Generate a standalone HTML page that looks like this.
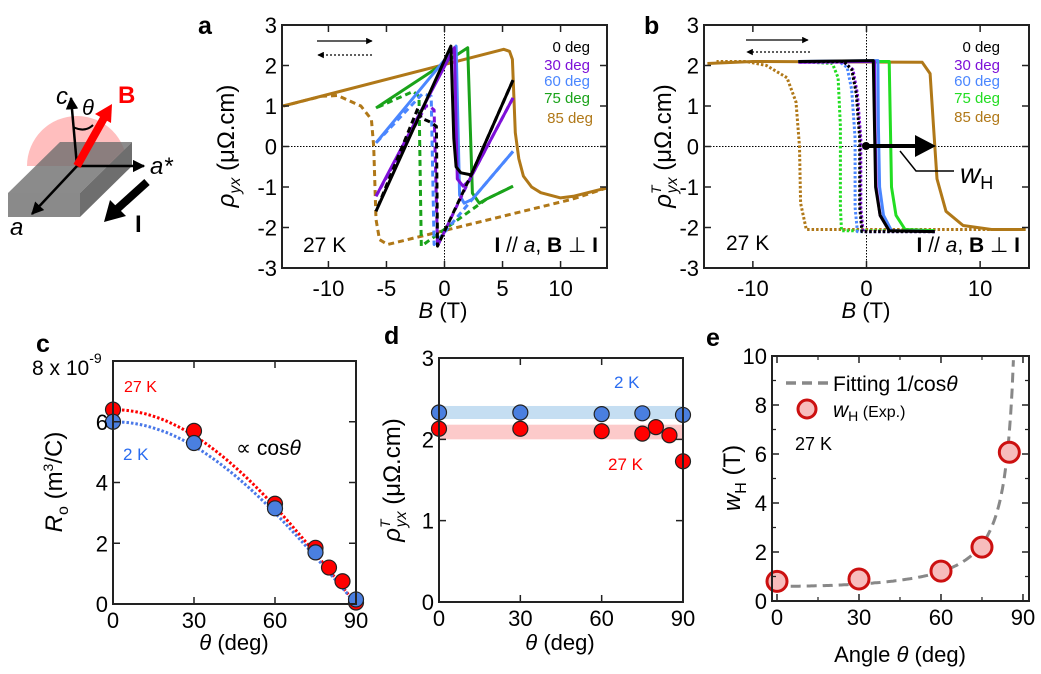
<!DOCTYPE html>
<html><head><meta charset="utf-8"><style>
html,body{margin:0;padding:0;background:#fff;}
svg{display:block;font-family:"Liberation Sans",Arial,sans-serif;}
</style></head><body>
<svg id="fig" width="1041" height="674" viewBox="0 0 1041 674" xmlns="http://www.w3.org/2000/svg">
<defs>
<marker id="ah" viewBox="0 0 10 10" refX="9" refY="5" markerWidth="5" markerHeight="5" orient="auto-start-reverse"><path d="M0,0L10,5L0,10z" fill="#000"/></marker>
</defs>
<g>
<path d="M27,166 A50,50 0 0 1 127,166 Z" fill="rgba(255,110,110,0.45)"/>
<polygon points="8,193 80,193 132,142 60,142" fill="rgba(110,110,110,0.8)"/>
<polygon points="8,193 80,193 80,217 8,217" fill="#8a8a8a"/>
<polygon points="80,193 132,142 132,166 80,217" fill="#6e6e6e"/>
<line x1="77" y1="166" x2="71" y2="98" stroke="#000" stroke-width="2.5" marker-end="url(#ah)"/>
<line x1="77" y1="166" x2="144" y2="166" stroke="#000" stroke-width="2.5" marker-end="url(#ah)"/>
<line x1="77" y1="166" x2="32" y2="214" stroke="#000" stroke-width="2.5" marker-end="url(#ah)"/>
<path d="M73,127 Q85,133 93,125" fill="none" stroke="#000" stroke-width="2"/>
<line x1="77" y1="166" x2="104" y2="118" stroke="#f00" stroke-width="8"/>
<polygon points="112,104 95,114 111,123" fill="#f00"/>
<line x1="147" y1="182" x2="116" y2="210" stroke="#000" stroke-width="8"/>
<polygon points="104,222 110,200 126,216" fill="#000"/>
<text x="56" y="104" font-size="24" font-style="italic">c</text>
<text x="82" y="115" font-size="22" font-style="italic">θ</text>
<text x="118" y="103" font-size="24" font-weight="bold" fill="#f00">B</text>
<text x="150" y="174" font-size="24" font-style="italic">a*</text>
<text x="10" y="235" font-size="24" font-style="italic">a</text>
<text x="135" y="232" font-size="24" font-weight="bold">I</text>
</g>
<g id="pa"></g>
<g id="pb"></g>
<g id="pc"></g>
<g id="pd"></g>
<g id="pe"></g>
</svg>
<script>
// ---------- data: panel a (B [T], rho_yx) ----------
const a0Up=[[-5.9,-1.6],[0.55,2.48],[0.8,0.2],[1.0,-0.5],[1.4,-0.65],[2.3,-0.7],[5.9,1.64]];
const a0Down=[[5.9,1.64],[2.3,-0.7],[-0.6,-2.46],[-0.7,0.5],[-1.2,0.6],[-2.0,0.7],[-2.3,0.94],[-5.9,-1.6]];
const a30Up=[[-5.9,-1.23],[0.85,2.44],[1.1,-0.8],[1.6,-0.98],[2.1,-0.85],[5.9,1.2]];
const a30Down=[[5.9,1.2],[2.1,-0.85],[-0.6,-2.46],[-0.9,0.9],[-1.3,1.0],[-1.6,1.0],[-5.9,-1.23]];
const a60Up=[[-5.9,0.09],[1.0,2.48],[1.3,-1.2],[1.7,-1.4],[2.4,-1.3],[5.9,-0.12]];
const a60Down=[[5.9,-0.12],[2.4,-1.3],[-0.9,-2.42],[-1.15,1.24],[-1.6,1.28],[-1.9,1.3],[-5.9,0.09]];
const a75Up=[[-5.9,0.95],[2.0,2.44],[2.4,-1.15],[3.0,-1.4],[3.6,-1.3],[5.9,-0.98]];
const a75Down=[[5.9,-0.98],[3.6,-1.3],[-2.0,-2.46],[-2.2,1.24],[-2.7,1.36],[-5.9,0.95]];
const a85Up=[[-13.9,1.0],[5.1,2.4],[5.6,2.35],[5.85,2.15],[6.1,0.34],[6.4,-0.3],[6.8,-0.73],[7.5,-1.0],[8.3,-1.14],[10,-1.27],[11.1,-1.23],[14,-1.02]];
const a85Down=[[14,-1.02],[11,-1.3],[-4.9,-2.42],[-5.6,-2.3],[-5.9,-1.8],[-6.1,0],[-6.3,0.67],[-7.2,1.0],[-9.2,1.26],[-10.6,1.24],[-13.9,1.0]];
// ---------- data: panel b (B [T], rho^T_yx) ----------
const b0Up=[[-6,2.1],[0.6,2.12],[0.7,0.5],[0.8,-1.0],[1.2,-1.7],[2.0,-2.08],[6,-2.1]];
const b0Down=[[6,-2.1],[-0.4,-2.1],[-0.6,-1.5],[-0.6,0.2],[-0.9,1.3],[-1.3,1.9],[-2.0,2.1],[-6,2.1]];
const b30Up=[[-6,2.08],[0.7,2.1],[0.75,0.5],[0.85,-1.0],[1.2,-1.7],[2.0,-2.08],[6,-2.1]];
const b30Down=[[6,-2.1],[-0.3,-2.1],[-0.5,-1.5],[-0.5,0.2],[-0.8,1.3],[-1.2,1.9],[-2.0,2.08],[-6,2.08]];
const b60Up=[[-6,2.1],[1.0,2.12],[1.05,0.5],[1.15,-1.0],[1.5,-1.7],[2.2,-2.08],[6,-2.1]];
const b60Down=[[6,-2.1],[-0.8,-2.1],[-1.0,-1.5],[-1.0,0.2],[-1.3,1.4],[-1.7,1.95],[-2.4,2.1],[-6,2.1]];
const b75Up=[[-6,2.1],[2.0,2.1],[2.1,0.5],[2.2,-1.0],[2.6,-1.7],[3.4,-2.05],[6,-2.08]];
const b75Down=[[6,-2.08],[-2.2,-2.08],[-2.3,-1.5],[-2.3,0.5],[-2.5,1.7],[-3.0,2.05],[-6,2.1]];
const b85Up=[[-14,2.05],[-10,2.1],[4.9,2.08],[5.6,1.8],[5.9,0.5],[6.2,-0.8],[7.0,-1.6],[8.5,-1.95],[11,-2.05],[14,-2.05]];
const b85Down=[[14,-2.05],[-5.3,-2.05],[-5.8,-1.4],[-5.9,0],[-6.2,1.1],[-7.0,1.7],[-8.8,2.0],[-10.6,2.1],[-13.2,2.1]];
// ---------- data: panel c ----------
const cAngles27=[0,30,60,75,80,85,90];
const cR27=[6.4,5.7,3.3,1.85,1.2,0.75,0.05];
const cAngles2=[0,30,60,75,90];
const cR2=[6.0,5.3,3.15,1.7,0.15];
const cFitAmp=[6.4,6.0];
// ---------- data: panel d ----------
const dAngles2=[0,30,60,75,90];
const dRho2=[2.33,2.33,2.31,2.32,2.3];
const dAngles27=[0,30,60,75,80,85,90];
const dRho27=[2.13,2.13,2.1,2.07,2.15,2.05,1.73];
const dBand2=[2.25,2.41];
const dBand27=[2.0,2.18];
// ---------- data: panel e ----------
const eAngles=[0,30,60,75,85];
const eWH=[0.8,0.9,1.22,2.2,6.07];
const eFitAmp=[0.6];

const NS="http://www.w3.org/2000/svg";
function mk(par,tag,at){const e=document.createElementNS(NS,tag);for(const k in at)e.setAttribute(k,at[k]);par.appendChild(e);return e;}
function panel(g,p){
  p.sx=v=>p.x0+(v-p.xmin)/(p.xmax-p.xmin)*(p.x1-p.x0);
  p.sy=v=>p.y1-(v-p.ymin)/(p.ymax-p.ymin)*(p.y1-p.y0);
  p.g=g;return p;
}
function frame(p,xt,yt,xl,yl,opt){
  const g=p.g;opt=opt||{};const off=opt.off||28;
  xt.forEach(v=>{const x=p.sx(v);
    const t=mk(g,'path',{d:`M${x},${p.y1}v-7M${x},${p.y0}v7`,stroke:'#222','stroke-width':1.5});
    
    const l=mk(g,'text',{x:x,y:p.y1+off,'font-size':22,'text-anchor':'middle'});l.textContent=xl?xl(v):v;
    });
  yt.forEach(v=>{const y=p.sy(v);
    const t=mk(g,'path',{d:`M${p.x0},${y}h7M${p.x1},${y}h-7`,stroke:'#222','stroke-width':1.5});
    
    if(yl&&yl(v)==='')return;
    const l=mk(g,'text',{x:p.x0-5,y:y+8,'font-size':22,'text-anchor':'end'});l.textContent=yl?yl(v):v;
    });
  (opt.minx||[]).forEach(v=>{const x=p.sx(v);mk(g,'path',{d:`M${x},${p.y1}v-4M${x},${p.y0}v4`,stroke:'#222','stroke-width':1.2});});
  (opt.miny||[]).forEach(v=>{const y=p.sy(v);mk(g,'path',{d:`M${p.x0},${y}h4M${p.x1},${y}h-4`,stroke:'#222','stroke-width':1.2});});
  const r=mk(g,'rect',{x:p.x0,y:p.y0,width:p.x1-p.x0,height:p.y1-p.y0,fill:'none',stroke:'#222','stroke-width':2});
  
}
function zeroLines(p){mk(p.g,'line',{x1:p.x0,x2:p.x1,y1:p.sy(0),y2:p.sy(0),stroke:'#000','stroke-width':1,'stroke-dasharray':'1.5,1.5'});
  mk(p.g,'line',{x1:p.sx(0),x2:p.sx(0),y1:p.y0,y2:p.y1,stroke:'#000','stroke-width':1,'stroke-dasharray':'1.5,1.5'});}
function curve(p,pts,col,dash,name){
  const d=pts.map((q,i)=>(i?'L':'M')+p.sx(q[0]).toFixed(1)+','+p.sy(q[1]).toFixed(1)).join('');
  const e=mk(p.g,'path',{d:d,fill:'none',stroke:col,'stroke-width':3,'stroke-linejoin':'round'});
  if(dash)e.setAttribute('stroke-dasharray',dash);
  
  
}
function txt(g,x,y,s,size,at,name){const t=mk(g,'text',Object.assign({x:x,y:y,'font-size':size},at||{}));t.innerHTML=s;
  
  return t;}
function dot(p,x,y,fill,r,stroke,sw,name){const c=mk(p.g,'circle',{cx:p.sx(x),cy:p.sy(y),r:r,fill:fill,stroke:stroke,'stroke-width':sw});
  
  }

const colK='#000',colP='#7d10d8',colB='#4a86ff',colGa='#1aa31a',colGb='#22dd22',colBr='#b07818';
const rhoLbl='<tspan font-style="italic">ρ</tspan><tspan font-size="16" dy="6" font-style="italic">yx</tspan><tspan dy="-6"> (μΩ.cm)</tspan>';
const rhoTLbl='<tspan font-style="italic">ρ</tspan><tspan font-size="14" dy="-10" font-style="italic">T</tspan><tspan font-size="16" dy="16" dx="-8" font-style="italic">yx</tspan><tspan dy="-6"> (μΩ.cm)</tspan>';

// ---------- panel a ----------
const A=panel(document.getElementById('pa'),{x0:282,x1:607,y0:25,y1:268,xmin:-14,xmax:14,ymin:-3,ymax:3});
zeroLines(A);
[[a85Up,a85Down,colBr,'85'],[a75Up,a75Down,colGa,'75'],[a60Up,a60Down,colB,'60'],[a30Up,a30Down,colP,'30'],[a0Up,a0Down,colK,'0']].forEach(s=>{
  curve(A,s[1],s[2],'6,4','curve-'+s[3]+'deg-down');curve(A,s[0],s[2],null,'curve-'+s[3]+'deg-up');});
frame(A,[-10,-5,0,5,10],[-3,-2,-1,0,1,2,3]);
txt(A.g,198,34,'a',25,{'font-weight':'bold'},'panel-label-a');
txt(A.g,443,318,'<tspan font-style="italic">B</tspan> (T)',22,{'text-anchor':'middle'},'x-axis-title');
txt(A.g,0,0,rhoLbl,24,{'text-anchor':'middle',transform:'translate(234,146) rotate(-90)'},'y-axis-title');
txt(A.g,303,252,'27 K',21,{},'temperature-label');
txt(A.g,598,252,'<tspan font-weight="bold">I</tspan> // <tspan font-style="italic">a</tspan>, <tspan font-weight="bold">B</tspan> ⊥ <tspan font-weight="bold">I</tspan>',21,{'text-anchor':'end'},'geometry-label');
[['0 deg',colK,52],['30 deg',colP,70],['60 deg',colB,86],['75 deg',colGa,103]].forEach(l=>txt(A.g,590,l[2],l[0],15,{'text-anchor':'end',fill:l[1]},'legend-entry'));
txt(A.g,593,123,'85 deg',15,{'text-anchor':'end',fill:colBr},'legend-entry');
mk(A.g,'line',{x1:317,y1:41,x2:372,y2:41,stroke:'#000','stroke-width':1.3,'marker-end':'url(#ah)'});
mk(A.g,'line',{x1:372,y1:55,x2:318,y2:55,stroke:'#000','stroke-width':1.3,'stroke-dasharray':'2,2','marker-end':'url(#ah)'});

// ---------- panel b ----------
const B=panel(document.getElementById('pb'),{x0:704,x1:1029,y0:25,y1:268,xmin:-14.3,xmax:14.3,ymin:-3,ymax:3});
zeroLines(B);
[[b85Up,b85Down,colBr,'85'],[b75Up,b75Down,colGb,'75'],[b60Up,b60Down,colB,'60'],[b30Up,b30Down,colP,'30'],[b0Up,b0Down,colK,'0']].forEach(s=>{
  curve(B,s[1],s[2],'2.5,2','curve-'+s[3]+'deg-down');curve(B,s[0],s[2],null,'curve-'+s[3]+'deg-up');});
frame(B,[-10,0,10],[-3,-2,-1,0,1,2,3]);
txt(B.g,644,34,'b',25,{'font-weight':'bold'},'panel-label-b');
txt(B.g,866,318,'<tspan font-style="italic">B</tspan> (T)',22,{'text-anchor':'middle'},'x-axis-title');
txt(B.g,0,0,rhoTLbl,24,{'text-anchor':'middle',transform:'translate(671,146) rotate(-90)'},'y-axis-title');
txt(B.g,726,250,'27 K',21,{},'temperature-label');
txt(B.g,1020,252,'<tspan font-weight="bold">I</tspan> // <tspan font-style="italic">a</tspan>, <tspan font-weight="bold">B</tspan> ⊥ <tspan font-weight="bold">I</tspan>',21,{'text-anchor':'end'},'geometry-label');
[['0 deg',colK,52],['30 deg',colP,70],['60 deg',colB,86],['75 deg',colGb,103],['85 deg',colBr,122]].forEach(l=>txt(B.g,1000,l[2],l[0],15,{'text-anchor':'end',fill:l[1]},'legend-entry'));
mk(B.g,'line',{x1:746,y1:40,x2:808,y2:40,stroke:'#000','stroke-width':1.3,'marker-end':'url(#ah)'});
mk(B.g,'line',{x1:810,y1:52,x2:747,y2:52,stroke:'#000','stroke-width':1.3,'stroke-dasharray':'2,2','marker-end':'url(#ah)'});
mk(B.g,'circle',{cx:866,cy:146,r:4,fill:'#000'});
mk(B.g,'line',{x1:866,y1:146,x2:918,y2:146,stroke:'#000','stroke-width':4});
mk(B.g,'polygon',{points:'915,135 936,146 915,157',fill:'#000'});
mk(B.g,'polyline',{points:'900,151 916,171 954,171',fill:'none',stroke:'#000','stroke-width':1.5});
txt(B.g,960,183,'<tspan font-style="italic">w</tspan><tspan font-size="18" dy="6">H</tspan>',28,{},'wh-annotation');

// ---------- panel c ----------
const C=panel(document.getElementById('pc'),{x0:113,x1:356,y0:361,y1:604,xmin:0,xmax:90,ymin:0,ymax:8});
[[cFitAmp[0],'#f00'],[cFitAmp[1],'#4a78e8']].forEach((f,i)=>{
  const pts=[];for(let t=0;t<=90;t+=2)pts.push([t,f[0]*Math.cos(t*Math.PI/180)]);
  curve(C,pts,f[1],'2.5,2',i?'fit-2k':'fit-27k');});
cAngles27.forEach((t,i)=>dot(C,t,cR27[i],'#f00',7.5,'#222',1.2,'point-27k'));
cAngles2.forEach((t,i)=>dot(C,t,cR2[i],'#4a7fe0',7.5,'#222',1.2,'point-2k'));
frame(C,[0,30,60,90],[0,2,4,6,8],null,v=>v===8?'':v,{off:24});
txt(C.g,36,352,'c',25,{'font-weight':'bold'},'panel-label-c');
txt(C.g,32,375,'8 x 10<tspan font-size="14" dy="-12">-9</tspan>',21,{},'y-axis-exponent');
txt(C.g,234,650,'<tspan font-style="italic">θ</tspan> (deg)',22,{'text-anchor':'middle'},'x-axis-title');
txt(C.g,0,0,'<tspan font-style="italic">R</tspan><tspan font-size="16" dy="6">o</tspan><tspan dy="-6"> (m</tspan><tspan font-size="14" dy="-9">3</tspan><tspan dy="9">/C)</tspan>',24,{'text-anchor':'middle',transform:'translate(62,482) rotate(-90)'},'y-axis-title');
txt(C.g,124,392,'27 K',16,{fill:'#f00'},'label-27k');
txt(C.g,123,460,'2 K',17,{fill:'#2a6cf0'},'label-2k');
txt(C.g,236,455,'∝ cos<tspan font-style="italic">θ</tspan>',21,{},'fit-annotation');

// ---------- panel d ----------
const D=panel(document.getElementById('pd'),{x0:439,x1:683,y0:358,y1:602,xmin:0,xmax:90,ymin:0,ymax:3});
[[dBand2,'rgba(140,190,230,0.5)','band-2k'],[dBand27,'rgba(250,150,150,0.5)','band-27k']].forEach(b=>{
  const r=mk(D.g,'rect',{x:D.x0,y:D.sy(b[0][1]),width:D.x1-D.x0,height:D.sy(b[0][0])-D.sy(b[0][1]),fill:b[1]});
  });
dAngles2.forEach((t,i)=>dot(D,t,dRho2[i],'#4a7fe0',7.5,'#222',1.2,'point-2k'));
dAngles27.forEach((t,i)=>dot(D,t,dRho27[i],'#f00',7.5,'#222',1.2,'point-27k'));
frame(D,[0,30,60,90],[0,1,2,3],null,null,{off:24});
txt(D.g,384,344,'d',25,{'font-weight':'bold'},'panel-label-d');
txt(D.g,560,650,'<tspan font-style="italic">θ</tspan> (deg)',22,{'text-anchor':'middle'},'x-axis-title');
txt(D.g,0,0,rhoTLbl,24,{'text-anchor':'middle',transform:'translate(400,480) rotate(-90)'},'y-axis-title');
txt(D.g,614,388,'2 K',17,{fill:'#2a6cf0'},'label-2k');
txt(D.g,608,470,'27 K',17,{fill:'#f00'},'label-27k');

// ---------- panel e ----------
const E=panel(document.getElementById('pe'),{x0:772,x1:1029,y0:356,y1:601,xmin:-1.83,xmax:92.2,ymin:0,ymax:10});
{const pts=[];for(let t=5;t<=86.6;t+=0.5)pts.push([t,eFitAmp[0]/Math.cos(t*Math.PI/180)]);
 curve(E,pts.filter(q=>q[1]<=10.2),'#888','10,6','fit-curve');}
eAngles.forEach((t,i)=>dot(E,t,eWH[i],'#f7bcbc',10,'#cc1010',3,'wh-point'));
frame(E,[0,30,60,90],[0,2,4,6,8,10],null,null,{minx:[15,45,75],miny:[1,3,5,7,9],off:24});
txt(E.g,706,346,'e',25,{'font-weight':'bold'},'panel-label-e');
txt(E.g,900,662,'Angle <tspan font-style="italic">θ</tspan> (deg)',22,{'text-anchor':'middle'},'x-axis-title');
txt(E.g,0,0,'<tspan font-style="italic">w</tspan><tspan font-size="16" dy="6">H</tspan><tspan dy="-6"> (T)</tspan>',24,{'text-anchor':'middle',transform:'translate(740,478) rotate(-90)'},'y-axis-title');
mk(E.g,'line',{x1:786,y1:383,x2:828,y2:383,stroke:'#888','stroke-width':3.5,'stroke-dasharray':'10,6'});
txt(E.g,833,391,'Fitting 1/cos<tspan font-style="italic">θ</tspan>',21,{},'legend-fit');
mk(E.g,'circle',{cx:807,cy:409,r:9,fill:'#f7bcbc',stroke:'#cc1010','stroke-width':3});
txt(E.g,833,417,'<tspan font-style="italic">w</tspan><tspan font-size="14" dy="4">H</tspan><tspan dy="-4" font-size="16"> (Exp.)</tspan>',21,{},'legend-exp');
txt(E.g,795,450,'27 K',18,{},'temperature-label');
</script>
</body></html>
